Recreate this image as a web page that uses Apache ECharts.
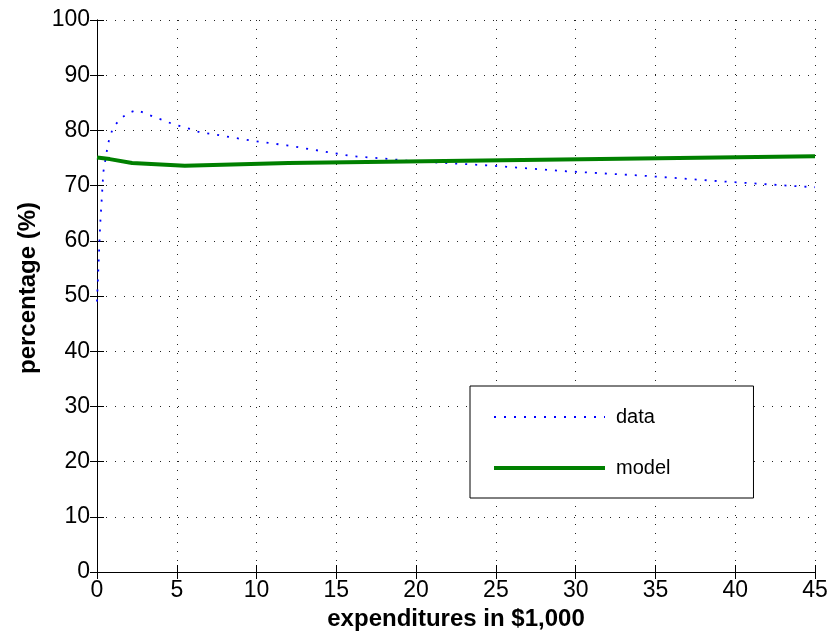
<!DOCTYPE html>
<html><head><meta charset="utf-8">
<script src="https://cdn.jsdelivr.net/npm/echarts@6/dist/echarts.min.js"></script>
<style>html,body{margin:0;padding:0;background:#fff}#c{width:835px;height:644px}</style>
</head><body><div id="c"></div>
<script>
const dataX = [0, 0.1, 0.2, 0.4, 0.7, 1.0, 1.5, 2.0, 2.5, 3.0, 3.6, 4.2, 4.7, 5.3, 5.9, 6.5, 7.1, 8.3, 9.6, 10.8, 11.9, 14.8, 16.1, 18.4, 19.8, 22.5, 24.8, 29.4, 34.2, 39.0, 43.8, 45];
const dataY = [49, 56, 63, 72.5, 77.7, 80.5, 82.2, 83.2, 83.7, 83.1, 82.4, 81.8, 81.2, 80.7, 80.2, 79.6, 79.4, 78.8, 78.2, 77.7, 77.3, 75.9, 75.3, 74.8, 74.4, 74.0, 73.6, 72.6, 71.8, 70.8, 69.9, 69.7];
const modelX = [0, 0.8, 2.2, 5.5, 12, 45];
const modelY = [75.1, 74.8, 74.1, 73.6, 74.1, 75.3];
const xTicks = {min: 0, max: 45, interval: 5};
const yTicks = {min: 0, max: 100, interval: 10};
const seriesNames = ['data', 'model'];

const font = 'Liberation Sans, Arial, sans-serif';
const pair = (xs, ys) => xs.map((x, i) => [x, ys[i]]);
const chart = echarts.init(document.getElementById('c'));
const gridLine = {show: true, lineStyle: {color: '#222', width: 1, type: [1, 8]}};
const tick = {show: true, inside: true, length: 7, lineStyle: {color: '#000'}};
const line = {show: true, lineStyle: {color: '#000', width: 1}};
chart.setOption({
  animation: false,
  grid: {left: 97, right: 20, top: 20, bottom: 72},
  xAxis: [{
    type: 'value', min: xTicks.min, max: xTicks.max, interval: xTicks.interval,
    name: 'expenditures in $1,000', nameLocation: 'middle', nameGap: 27,
    nameTextStyle: {fontFamily: font, fontSize: 24, fontWeight: 'bold', color: '#000'},
    axisLine: line, axisTick: tick,
    axisLabel: {fontFamily: font, fontSize: 23, color: '#000', margin: 7},
    splitLine: gridLine
  }, {
    type: 'value', position: 'top', min: xTicks.min, max: xTicks.max, interval: xTicks.interval,
    axisLine: line, axisTick: tick, axisLabel: {show: false}, splitLine: {show: false}
  }],
  yAxis: [{
    type: 'value', min: yTicks.min, max: yTicks.max, interval: yTicks.interval,
    name: 'percentage (%)', nameLocation: 'middle', nameGap: 51, nameRotate: 90,
    nameTextStyle: {fontFamily: font, fontSize: 24, fontWeight: 'bold', color: '#000', padding: [0, 0, 0, 16]},
    axisLine: line, axisTick: tick,
    axisLabel: {fontFamily: font, fontSize: 23, color: '#000', margin: 7},
    splitLine: gridLine
  }, {
    type: 'value', position: 'right', min: yTicks.min, max: yTicks.max, interval: yTicks.interval,
    axisLine: line, axisTick: tick, axisLabel: {show: false}, splitLine: {show: false}
  }],
  legend: {
    orient: 'vertical', left: 470, top: 386,
    padding: [21, 83, 20, 22],
    backgroundColor: '#fff', borderColor: '#000', borderWidth: 1,
    itemWidth: 111, itemHeight: 20, itemGap: 31,
    itemStyle: {opacity: 0},
    textStyle: {fontFamily: font, fontSize: 20, color: '#000', padding: [0, 0, 0, 6]},
    data: [
      {name: seriesNames[0], itemStyle: {opacity: 0}, lineStyle: {width: 1.8, type: [2, 8], color: '#0000ff'}},
      {name: seriesNames[1], itemStyle: {opacity: 0}, lineStyle: {width: 4, color: '#008000'}}
    ]
  },
  series: [{
    name: seriesNames[0], type: 'line', showSymbol: false, symbol: 'none',
    data: pair(dataX, dataY), smooth: false,
    lineStyle: {color: '#0000ff', width: 1.8, type: [2, 8]},
    itemStyle: {color: '#0000ff'}
  }, {
    name: seriesNames[1], type: 'line', showSymbol: false, symbol: 'none',
    data: pair(modelX, modelY),
    lineStyle: {color: '#008000', width: 4},
    itemStyle: {color: '#008000'}
  }]
});
</script></body></html>
